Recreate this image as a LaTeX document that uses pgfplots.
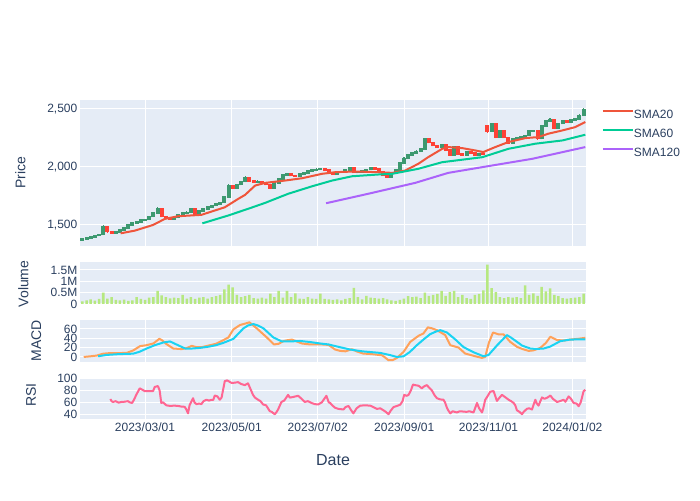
\documentclass[border=0pt]{standalone}
\usepackage{pgfplots}
\pgfplotsset{compat=1.18}
\usepackage{pgfplotstable}
\usepackage{fontspec}
\setmainfont{Liberation Sans}

\definecolor{bgc}{HTML}{E5ECF6}
\definecolor{txt}{HTML}{2A3F5F}
\definecolor{upc}{HTML}{3D9970}
\definecolor{dnc}{HTML}{FF4136}
\definecolor{smaA}{HTML}{EF553B}
\definecolor{smaB}{HTML}{00CC96}
\definecolor{smaC}{HTML}{AB63FA}
\definecolor{volc}{HTML}{B6E880}
\definecolor{macdc}{HTML}{FFA15A}
\definecolor{sigc}{HTML}{19D3F3}
\definecolor{rsic}{HTML}{FF6692}

% d = days since 2023-01-01, o h l c = price, v = volume in millions
\pgfplotstableread{
d o h l c v
14 1368 1382 1362 1375 0.12
17 1375 1391 1371 1385 0.16
20 1385 1401 1380 1395 0.20
23 1395 1410 1389 1405 0.15
26 1405 1420 1399 1415 0.22
29 1415 1495 1410 1478 0.50
32 1478 1484 1432 1440 0.24
35 1440 1448 1422 1430 0.30
38 1430 1446 1424 1438 0.18
41 1438 1462 1432 1455 0.16
44 1455 1478 1449 1470 0.19
47 1470 1505 1465 1498 0.14
50 1498 1520 1492 1512 0.16
53 1512 1532 1505 1525 0.30
56 1525 1548 1518 1540 0.22
59 1540 1552 1533 1545 0.18
62 1545 1578 1540 1570 0.28
65 1570 1608 1565 1600 0.30
68 1600 1652 1595 1640 0.58
71 1640 1645 1562 1570 0.38
74 1570 1578 1548 1555 0.30
77 1555 1562 1540 1548 0.25
80 1548 1568 1542 1560 0.28
83 1560 1588 1553 1580 0.26
86 1580 1610 1574 1600 0.40
89 1600 1614 1595 1605 0.24
92 1605 1645 1600 1635 0.30
95 1635 1640 1585 1592 0.22
98 1592 1622 1586 1615 0.28
101 1615 1642 1610 1635 0.30
104 1635 1658 1628 1650 0.24
107 1650 1672 1644 1665 0.30
110 1665 1683 1658 1675 0.34
113 1675 1698 1668 1690 0.40
116 1690 1750 1685 1740 0.64
119 1740 1848 1735 1835 0.85
122 1835 1845 1805 1815 0.73
125 1815 1852 1808 1845 0.40
128 1845 1878 1838 1870 0.30
131 1870 1915 1864 1905 0.34
134 1905 1910 1868 1875 0.40
137 1875 1884 1860 1868 0.26
140 1868 1880 1860 1872 0.24
143 1872 1878 1855 1862 0.28
146 1862 1868 1838 1845 0.24
149 1845 1850 1805 1815 0.45
152 1815 1866 1810 1860 0.30
155 1860 1902 1855 1895 0.58
158 1895 1932 1890 1925 0.28
161 1925 1948 1920 1940 0.58
164 1940 1946 1915 1922 0.30
167 1922 1928 1908 1915 0.47
170 1915 1942 1910 1935 0.24
173 1935 1952 1928 1945 0.22
176 1945 1966 1940 1960 0.30
179 1960 1980 1954 1972 0.24
182 1972 1984 1966 1975 0.22
185 1975 1990 1970 1980 0.45
188 1980 1986 1962 1968 0.22
191 1968 1974 1934 1940 0.20
194 1940 1946 1925 1932 0.18
197 1932 1955 1928 1948 0.20
200 1948 1960 1942 1952 0.16
203 1952 1978 1946 1970 0.22
206 1970 1995 1964 1985 0.26
209 1985 1990 1942 1948 0.71
212 1948 1962 1940 1955 0.30
215 1955 1970 1950 1962 0.20
218 1962 1982 1956 1975 0.36
221 1975 1994 1970 1985 0.28
224 1985 1992 1974 1980 0.26
227 1980 1986 1944 1950 0.24
230 1950 1956 1918 1925 0.26
233 1925 1932 1902 1910 0.20
236 1910 1946 1905 1940 0.16
239 1940 1976 1934 1970 0.14
242 1970 2038 1965 2030 0.18
245 2030 2078 2024 2070 0.24
248 2070 2108 2064 2100 0.34
251 2100 2122 2094 2115 0.30
254 2115 2138 2108 2130 0.32
257 2130 2160 2124 2150 0.26
260 2150 2245 2145 2235 0.50
263 2235 2242 2198 2205 0.36
266 2205 2212 2172 2180 0.40
269 2180 2188 2158 2165 0.44
272 2165 2194 2160 2185 0.58
275 2185 2190 2132 2140 0.36
278 2140 2146 2090 2100 0.52
281 2100 2172 2094 2165 0.57
284 2165 2170 2102 2110 0.30
287 2110 2118 2092 2100 0.40
290 2100 2132 2094 2125 0.26
293 2125 2130 2108 2115 0.22
296 2115 2122 2088 2095 0.40
299 2095 2118 2090 2110 0.44
302 2110 2116 2098 2105 0.60
305 2350 2358 2290 2305 1.72
308 2305 2378 2298 2365 0.70
311 2365 2370 2242 2250 0.52
314 2250 2318 2244 2310 0.30
317 2310 2316 2244 2250 0.26
320 2250 2256 2192 2200 0.30
323 2200 2242 2194 2235 0.28
326 2235 2252 2228 2245 0.30
329 2245 2262 2238 2255 0.26
332 2255 2272 2248 2265 0.82
335 2265 2312 2258 2305 0.40
338 2305 2318 2298 2310 0.47
341 2310 2316 2232 2240 0.36
344 2240 2358 2234 2350 0.75
347 2350 2398 2344 2390 0.55
350 2390 2418 2384 2405 0.68
353 2405 2410 2322 2330 0.40
356 2330 2378 2324 2370 0.34
359 2370 2402 2364 2395 0.26
362 2395 2400 2378 2385 0.24
365 2385 2408 2380 2400 0.26
368 2400 2418 2394 2410 0.28
371 2410 2448 2404 2440 0.30
374 2440 2500 2434 2490 0.45
}\candles

\pgfplotsset{
  panel/.style={
    scale only axis, width=506pt, anchor=south west,
    xmin=12.3, xmax=375.8,
    axis background/.style={fill=bgc},
    axis line style={draw=none},
    major tick length=0pt,
    grid style={white, line width=1pt},
    xtick={59,121.3,183.1,245.2,305.8,366},
    xticklabels={},
    yticklabel style={anchor=base east, inner sep=0pt, xshift=-2.5pt, yshift=-4.3pt,
      font=\fontsize{12}{14}\selectfont, text=txt},
    xticklabel style={anchor=base, inner sep=0pt, yshift=-12.7pt,
      font=\fontsize{12}{14}\selectfont, text=txt},
  },
  upcandle/.style={forget plot, mark=none,
    restrict expr to domain={\thisrow{c}-\thisrow{o}}{0:100000}},
  dncandle/.style={forget plot, mark=none,
    restrict expr to domain={\thisrow{c}-\thisrow{o}}{-100000:-0.5}},
}

\begin{document}
\begin{tikzpicture}
\path[fill=white] (0,0) rectangle (700pt,500pt);

% Price panel
\begin{axis}[panel, at={(80pt,254pt)}, height=146pt,
  ymin=1316, ymax=2572,
  xmajorgrids, ymajorgrids,
  ytick={1500,2000,2500}, yticklabels={{1,500},{2,000},{2,500}},
  legend style={at={(1,1)}, anchor=north west, xshift=15.7pt, yshift=-10pt,
    draw=none, fill=none, inner sep=0pt, row sep=8.5pt,
    font=\fontsize{12}{14}\selectfont, text=txt,
    nodes={inner sep=0pt}},
  legend cell align=left,
  legend image code/.code={\draw[#1] (0pt,4.3pt) -- (30pt,4.3pt);},
  /tikz/every even column/.append style={column sep=7pt},
]
% wicks and bodies, rising candles
\addplot[upcandle, upc, line width=1.4pt, quiver={u=0, v=\thisrow{h}-\thisrow{l}}]
  table[x=d, y=l] {\candles};
\addplot[upcandle, upc, line width=4pt, quiver={u=0, v=\thisrow{c}-\thisrow{o}+14}]
  table[x=d, y expr=\thisrow{o}-7] {\candles};
% falling candles
\addplot[dncandle, dnc, line width=1.4pt, quiver={u=0, v=\thisrow{h}-\thisrow{l}}]
  table[x=d, y=l] {\candles};
\addplot[dncandle, dnc, line width=4pt, quiver={u=0, v=\thisrow{o}-\thisrow{c}+14}]
  table[x=d, y expr=\thisrow{c}-7] {\candles};

\addplot[smaA, line width=2pt, line join=round] coordinates {
(41.5,1425) (51.6,1448) (64.8,1497) (73.2,1549) (82.7,1572) (99.5,1584)
(116.3,1649) (125.9,1721) (130.9,1756) (138.1,1836) (145.3,1859) (159.6,1879)
(171.9,1899) (186.2,1937) (195.6,1951) (210,1957) (226.5,1951) (236.6,1945)
(245.9,1965) (255.3,2023) (262.4,2080) (272.5,2152) (276.8,2167) (286.9,2158)
(296.2,2138) (302,2124) (310.6,2167) (320,2210) (332.2,2244) (341.5,2253)
(348.7,2282) (358.8,2310) (368.1,2339) (375.3,2382)};
\addlegendentry{SMA20}
\addplot[smaB, line width=2pt, line join=round] coordinates {
(100.2,1511) (118.7,1578) (134.3,1641) (145.3,1687) (161.8,1765) (179.1,1830)
(193.4,1879) (207.8,1916) (226.5,1931) (236.6,1937) (255.3,1980) (272.5,2037)
(301.3,2080) (320,2152) (339.4,2196) (358.8,2224) (375.3,2273)};
\addlegendentry{SMA60}
\addplot[smaC, line width=2pt, line join=round] coordinates {
(189.1,1684) (220,1767) (253.1,1859) (276.8,1945) (305.6,2003) (337.2,2066)
(375.3,2167)};
\addlegendentry{SMA120}
\end{axis}

% Volume panel
\begin{axis}[panel, at={(80pt,196pt)}, height=42pt,
  ymin=0, ymax=1.84, ymajorgrids,
  ytick={0,0.5,1,1.5}, yticklabels={0,0.5M,1M,1.5M},
]
\addplot[ybar, bar width=1.8, fill=volc, draw=none, forget plot]
  table[x=d, y=v] {\candles};
\end{axis}

% MACD panel
\begin{axis}[panel, at={(80pt,138pt)}, height=42pt,
  ymin=-10.7, ymax=78.6, xmajorgrids, ymajorgrids,
  ytick={0,20,40,60}, yticklabels={0,20,40,60},
]
\addplot[macdc, line width=2pt, line join=round] coordinates {
(15,0) (20,1.5) (24.3,3) (29,7) (33,8) (38,8.2) (45.8,8.6) (50.6,14) (55.4,23)
(60,25) (65,28.7) (69.3,38.6) (71,36) (74.6,27) (79.3,18) (85.4,16.7) (89,19)
(92.6,23.6) (96.2,20.7) (100,21) (105.7,25) (110,28) (114.1,34) (118.9,41.5)
(122.5,58.7) (127.3,68) (131,71) (134,73.7) (139.3,60.8) (146.5,41.5)
(151.7,26.6) (155,28) (158.4,33.6) (161,35.5) (164.5,37) (168,33) (171.7,28.7)
(177.6,26.6) (184,27) (190.8,25.7) (195.6,15.8) (199.2,12.9) (203,12)
(207.6,16.5) (211,12) (215.7,7.3) (222,6) (229.2,3.6) (231,0) (233.9,-7)
(237,-6.5) (240,-2) (244.7,10.7) (249.5,32) (255.5,45) (259,50) (262.2,63)
(265,61) (268.7,57) (274.7,46.5) (278.3,25) (284.2,20) (289,7.3) (295,2.5)
(301,-2) (303.4,0) (306,30) (309,52) (313,48) (316.6,48) (321.4,32)
(326.3,21.4) (330,17) (334.6,12.9) (338,14) (343,19.3) (347,30) (350.2,43)
(355,36) (360,35) (364.5,37) (370,38.5) (375.3,40.7)};
\addplot[sigc, line width=2pt, line join=round] coordinates {
(25.3,1.5) (31.3,4.3) (40,6) (50.5,7) (55,11) (60.2,18) (66,25) (72.2,30.8)
(77,33) (82,26) (87.8,18) (93,18) (98.5,19.3) (105,22) (110,25) (115.3,30)
(122.5,38.6) (129.7,60.8) (133,67) (136.9,70) (140,67) (144.1,60.8)
(151.2,41.5) (157.3,33) (163,33) (170.4,34) (177,32) (184.8,28.7)
(190.8,26.6) (199.2,20.7) (206.4,15.8) (215,12) (228,8.6) (235,4) (240,0)
(244.7,1.4) (249,10) (254.3,25) (259,37) (263.9,48.6) (268,54) (271.1,57)
(275.9,52) (282,37) (287.8,21) (295,10) (302.2,1.4) (305.8,4.3) (312,25)
(319,46.5) (322,41) (326.3,32) (330,24) (335.8,18) (340,17) (345.4,18)
(350,22) (357.3,33.6) (364.5,37) (375.3,37.6)};
\end{axis}

% RSI panel
\begin{axis}[panel, at={(80pt,81pt)}, height=41pt,
  ymin=32, ymax=101, xmajorgrids, ymajorgrids,
  ytick={40,60,80,100}, yticklabels={40,60,80,100},
  xticklabels={2023/03/01,2023/05/01,2023/07/02,2023/09/01,2023/11/01,2024/01/02},
]
\addplot[rsic, line width=2pt, line join=round] coordinates {
(34.1,65.6) (35,62) (36,60.7) (38,62) (40,59.5) (42,60.7) (44,61) (46.8,62)
(48,60) (49.7,59) (51,64) (52.7,72.6) (55.2,83.6) (56.5,82) (58.8,79) (61,79)
(64.8,79) (66,86) (68.3,87.4) (69.5,80) (70.7,59) (72,60) (74.3,55) (77,54)
(80,54.5) (82.7,54) (85,53) (87.5,52.5) (88.7,48) (89.9,41.5) (91,55)
(93.5,67) (94.5,60) (95.9,57) (98,58) (99.5,57) (101,62) (103.1,64.4)
(105,63) (106.7,64.4) (108,64) (109.1,71.5) (111,70) (112.7,64.4) (114,68)
(116.3,95.6) (118,97) (121,92.9) (123,93) (125.9,94) (128,91) (130.7,89)
(133,92) (136.6,72.6) (138,68) (140.2,64.4) (142,62) (143.8,56.5) (146,55)
(148.6,45.3) (150,44) (152.2,40) (153.3,43) (154.6,48) (157,60.7) (159,63)
(161.8,72.6) (163,68) (165.4,69) (167,70) (169,71) (171,67) (173.8,60.7)
(176,62) (178.6,59) (181,57) (183.4,56.5) (186,60) (189.3,71) (191,60)
(192,59) (193.5,55) (195.6,50.8) (198,49) (201.6,48) (203,52) (205.2,54)
(207,47) (208.7,41.5) (211,50) (213.6,54.5) (217,55) (220.8,54.5) (223,52)
(225.6,49) (228,50) (230.3,46.6) (232,44) (233.9,40) (235.5,46) (237.5,52)
(240,54) (242.3,56) (244,62) (245.2,72.6) (247,71) (248.3,72.6) (250,80)
(251.5,90) (253,89) (255.5,88) (257.9,83.6) (259.5,87) (261.5,89) (263,85)
(265.1,80) (267,72) (268.7,67) (271,65) (273.4,64.4) (274.5,60) (275.9,50.8)
(277,46) (278.3,41.5) (280,45) (283.1,43) (285,45) (287.8,44.5) (290,44)
(292,45) (295,43) (297.5,59) (299,50) (301.1,43) (302,50) (303.4,64.4)
(305,70) (307,78) (309.4,79) (311.8,62.4) (313,66) (315.4,72.6) (317,70)
(320.2,64.4) (322,62) (323.8,59) (325,55) (326.2,46.6) (328,44) (329.8,40)
(331,44) (333.4,49.3) (335,50) (337,48) (338,55) (339.4,64.4) (340.5,58)
(341.7,54.5) (343,62) (344.2,68.3) (346,66) (348,68) (350.2,71.5) (352,66)
(355,60.7) (357,62) (359.7,64.4) (361,61) (363.3,70) (365,66) (366.9,59)
(369,58) (370.5,53.5) (372,60) (374.1,79) (375.3,81)};
\end{axis}

% axis titles
\node[rotate=90, text=txt, font=\fontsize{14}{16}\selectfont] at (20.3pt,327pt) {Price};
\node[rotate=90, text=txt, font=\fontsize{14}{16}\selectfont] at (23.3pt,216pt) {Volume};
\node[rotate=90, text=txt, font=\fontsize{14}{16}\selectfont] at (36.3pt,159pt) {MACD};
\node[rotate=90, text=txt, font=\fontsize{14}{16}\selectfont] at (31pt,105pt) {RSI};
\node[anchor=base, text=txt, font=\fontsize{16}{18}\selectfont] at (333pt,35pt) {Date};
\end{tikzpicture}
\end{document}
